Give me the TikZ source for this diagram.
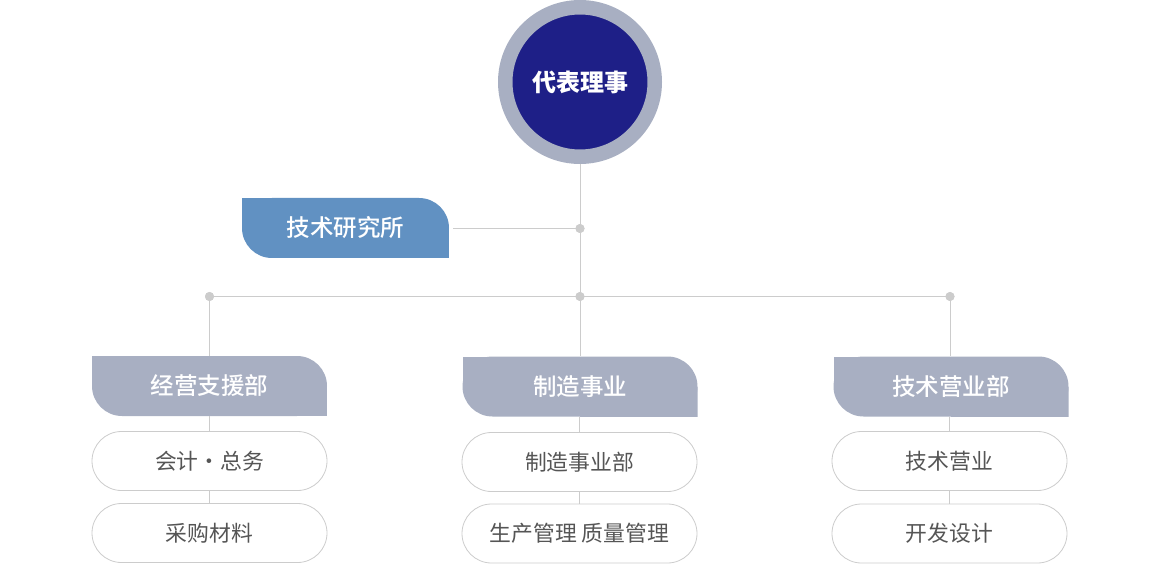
\documentclass[tikz,border=0pt]{standalone}
\usepackage{fontspec}
\newfontfamily\cjk{Noto Sans CJK SC}
\newfontfamily\cjkmed{Noto Sans CJK SC Medium}
\definecolor{ringgray}{RGB}{168,175,194}
\definecolor{navy}{RGB}{30,31,135}
\definecolor{techblue}{RGB}{97,145,194}
\definecolor{hdrgray}{RGB}{168,175,194}
\definecolor{linegray}{RGB}{204,204,204}
\definecolor{subtext}{RGB}{85,85,85}
\tikzset{
  halfround/.style={minimum width=235pt, minimum height=60pt, inner sep=0pt, text=white,
    font=\cjkmed\fontsize{23.5}{27}\selectfont,
    path picture={
      \fill[#1, rounded corners=30pt] (path picture bounding box.north west) rectangle (path picture bounding box.south east);
      \fill[#1] (path picture bounding box.north west) rectangle (path picture bounding box.center);
      \fill[#1] (path picture bounding box.center) rectangle (path picture bounding box.south east);
    }},
  hdrbox/.style={halfround=hdrgray},
  techbox/.style={halfround=techblue, minimum width=207pt},
  subbox/.style={draw=linegray, line width=0.8pt, fill=white, rounded corners=29.5pt,
    minimum width=235pt, minimum height=59pt, inner sep=0pt, text=subtext,
    font=\cjk\fontsize{21.8}{25}\selectfont},
  conn/.style={draw=linegray, line width=0.8pt},
  dotpt/.style={circle, fill=linegray, minimum size=9pt, inner sep=0pt},
}
\begin{document}
\begin{tikzpicture}[x=1pt,y=-1pt]
\useasboundingbox (0,0) rectangle (1160,564);
% top circle
\node[circle, fill=navy, draw=ringgray, line width=14.5pt, minimum size=149.5pt, inner sep=0pt,
  text=white, font=\cjk\bfseries\fontsize{24}{28}\selectfont] (ceo) at (580,82) {代表理事};
% dots
\node[dotpt] (dtech) at (580,228.5) {};
\node[dotpt] (dmid) at (580,296.5) {};
\node[dotpt] (dleft) at (209.5,296.5) {};
\node[dotpt] (dright) at (950,296.5) {};
% tech lab
\node[techbox] (tech) at (345.5,228) {技术研究所};
% headers
\node[hdrbox] (h1) at (209.5,386) {经营支援部};
\node[hdrbox] (h2) at (580,386.5) {制造事业};
\node[hdrbox] (h3) at (951,386.5) {技术营业部};
% sub boxes
\node[subbox] (s11) at (209.5,461) {会计·总务};
\node[subbox] (s12) at (209.5,533) {采购材料};
\node[subbox] (s21) at (579.5,462) {制造事业部};
\node[subbox] (s22) at (579.5,533.5) {生产管理 质量管理};
\node[subbox] (s31) at (949.5,461) {技术营业};
\node[subbox] (s32) at (949.5,533.5) {开发设计};
% connectors
\path[conn] (ceo.south) -- (dtech.center);
\path[conn] (dtech.center) -- (dmid.center);
\path[conn, shorten <=4pt] (tech.east |- dtech.center) -- (dtech.center);
\path[conn] (dleft.center) -- (dmid.center);
\path[conn] (dmid.center) -- (dright.center);
\path[conn] (dleft.center) -- (h1.north);
\path[conn] (dmid.center) -- (h2.north);
\path[conn] (dright.center) -- (h3.north -| dright.center);
\path[conn] (h1.south) -- (s11.north);
\path[conn] (s11.south) -- (s12.north);
\path[conn] (h2.south -| s21.north) -- (s21.north);
\path[conn] (s21.south) -- (s22.north);
\path[conn] (h3.south -| s31.north) -- (s31.north);
\path[conn] (s31.south) -- (s32.north);
% redraw dots on top
\node[dotpt] at (dtech) {};
\node[dotpt] at (dmid) {};
\node[dotpt] at (dleft) {};
\node[dotpt] at (dright) {};
\end{tikzpicture}
\end{document}
